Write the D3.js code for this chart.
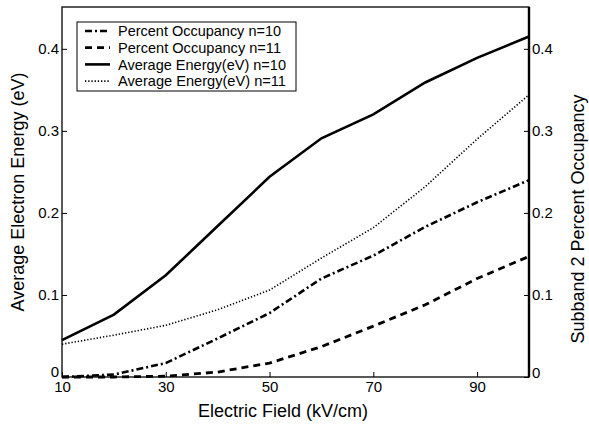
<!DOCTYPE html>
<html>
<head>
<meta charset="utf-8">
<script src="https://cdn.jsdelivr.net/npm/d3@7"></script>
<style>
  body { margin: 0; background: #fff; }
  svg { display: block; font-family: 'Liberation Sans', Arial, sans-serif; }
</style>
</head>
<body>
<div id="chart"></div>
<script>
// electric field values (kV/cm)
var fields = [10, 20, 30, 40, 50, 60, 70, 80, 90, 100]

// series
var occN10 = [0.000, 0.003, 0.017, 0.047, 0.078, 0.120, 0.148, 0.183, 0.213, 0.240]
var occN11 = [0.000, 0.000, 0.001, 0.006, 0.017, 0.037, 0.062, 0.088, 0.120, 0.147]
var energyN10 = [0.045, 0.076, 0.124, 0.184, 0.244, 0.291, 0.320, 0.359, 0.389, 0.415]
var energyN11 = [0.040, 0.051, 0.063, 0.082, 0.106, 0.145, 0.182, 0.232, 0.290, 0.344]

var xTicks = [10, 30, 50, 70, 90]
var yTicks = [0, 0.1, 0.2, 0.3, 0.4]

var series = [
  {label: 'Percent Occupancy n=10', values: occN10, dash: '7,3,2,3', width: 2.6},
  {label: 'Percent Occupancy n=11', values: occN11, dash: '7,5', width: 2.8},
  {label: 'Average Energy(eV) n=10', values: energyN10, dash: null, width: 2.6},
  {label: 'Average Energy(eV) n=11', values: energyN11, dash: '1.3,1.9', width: 1.6}
]

var W = 589, H = 428
var margin = {top: 7, right: 60, bottom: 51, left: 62}
var width = W - margin.left - margin.right,
    height = H - margin.top - margin.bottom

var svg = d3.select('#chart').append('svg')
    .attr('width', W)
    .attr('height', H)

var g = svg.append('g')
    .attr('transform', 'translate(' + margin.left + ',' + margin.top + ')')

var x = d3.scaleLinear().domain([10, 100]).range([0, width])
var y = d3.scaleLinear().domain([0, 0.451]).range([height, 0])

// frame
g.append('rect')
    .attr('width', width)
    .attr('height', height)
    .attr('fill', 'none')
    .attr('stroke', '#000')
    .attr('stroke-width', 1.3)
g.append('line')
    .attr('x1', width).attr('x2', width)
    .attr('y1', 0).attr('y2', height)
    .attr('stroke', '#000')
    .attr('stroke-width', 2.4)

var fmt = function(d){ return d === 0 ? '0' : d3.format('.1f')(d) }

// axes, ticks pointing inward
var xAxis = g.append('g')
    .attr('transform', 'translate(0,' + height + ')')
    .call(d3.axisBottom(x).tickValues(xTicks).tickSizeInner(-5).tickSizeOuter(0).tickPadding(4)
      .tickFormat(d3.format('d')))
var yLeft = g.append('g')
    .call(d3.axisLeft(y).tickValues(yTicks).tickSizeInner(-5).tickSizeOuter(0).tickPadding(3)
      .tickFormat(fmt))
var yRight = g.append('g')
    .attr('transform', 'translate(' + width + ',0)')
    .call(d3.axisRight(y).tickValues(yTicks).tickSizeInner(-5).tickSizeOuter(0).tickPadding(3)
      .tickFormat(fmt))

;[xAxis, yLeft, yRight].forEach(function(a){
  a.select('.domain').remove()
  a.selectAll('line').attr('stroke', '#000').attr('stroke-width', 1)
  a.selectAll('text').attr('font-size', 15).attr('fill', '#000')
    .attr('font-family', "'Liberation Sans', Arial, sans-serif")
})
// the "0" labels sit a bit above the baseline so "10" fits below
yLeft.selectAll('text').filter(function(d){ return d === 0 }).attr('dy', '-0.05em')
yRight.selectAll('text').filter(function(d){ return d === 0 }).attr('dy', '0.05em')

// lines
var line = d3.line()
    .x(function(d, i){ return x(fields[i]) })
    .y(function(d){ return y(d) })

series.forEach(function(s){
  g.append('path')
      .datum(s.values)
      .attr('d', line)
      .attr('fill', 'none')
      .attr('stroke', '#000')
      .attr('stroke-width', s.width)
      .attr('stroke-dasharray', s.dash)
})

// legend
var legend = g.append('g').attr('transform', 'translate(15,15)')
legend.append('rect')
    .attr('width', 219)
    .attr('height', 69)
    .attr('fill', '#fff')
    .attr('stroke', '#000')
    .attr('stroke-width', 1)
series.forEach(function(s, i){
  var ly = 9 + i * 16.7
  legend.append('line')
      .attr('x1', 8).attr('x2', 33)
      .attr('y1', ly).attr('y2', ly)
      .attr('stroke', '#000')
      .attr('stroke-width', s.width)
      .attr('stroke-dasharray', s.dash)
  legend.append('text')
      .attr('x', 41).attr('y', ly)
      .attr('dy', '0.35em')
      .attr('font-size', 15)
      .attr('textLength', i < 2 ? 163 : 168)
      .attr('lengthAdjust', 'spacingAndGlyphs')
      .text(s.label)
})

// axis titles
svg.append('text')
    .attr('x', 283)
    .attr('y', 417)
    .attr('text-anchor', 'middle')
    .attr('font-size', 18)
    .text('Electric Field (kV/cm)')
svg.append('text')
    .attr('transform', 'translate(24,' + (margin.top + height / 2) + ') rotate(-90)')
    .attr('text-anchor', 'middle')
    .attr('font-size', 18)
    .text('Average Electron Energy (eV)')
svg.append('text')
    .attr('transform', 'translate(584,' + (margin.top + height / 2 + 27) + ') rotate(-90)')
    .attr('text-anchor', 'middle')
    .attr('font-size', 18)
    .text('Subband 2 Percent Occupancy')
</script>
</body>
</html>
